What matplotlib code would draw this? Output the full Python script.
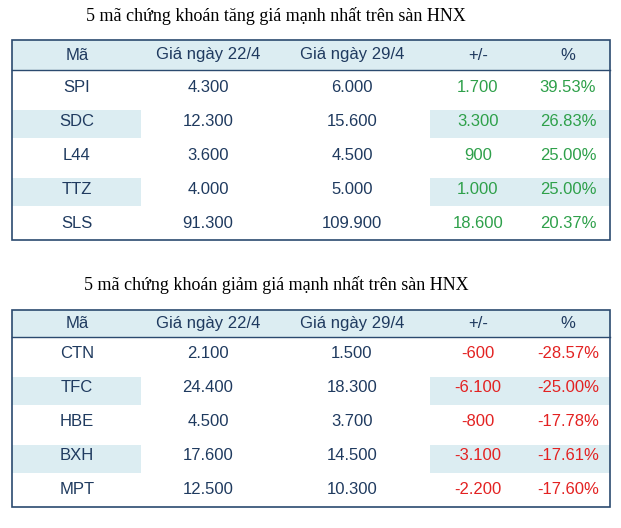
import matplotlib
matplotlib.use("Agg")
import matplotlib.pyplot as plt
from matplotlib.patches import Rectangle

HEADERS = ["Mã", "Giá ngày 22/4", "Giá ngày 29/4", "+/-", "%"]

UP_TITLE = "5 mã chứng khoán tăng giá mạnh nhất trên sàn HNX"
UP_CODES = ["SPI", "SDC", "L44", "TTZ", "SLS"]
UP_PRICE_22 = ["4.300", "12.300", "3.600", "4.000", "91.300"]
UP_PRICE_29 = ["6.000", "15.600", "4.500", "5.000", "109.900"]
UP_CHANGE = ["1.700", "3.300", "900", "1.000", "18.600"]
UP_PCT = ["39.53%", "26.83%", "25.00%", "25.00%", "20.37%"]

DOWN_TITLE = "5 mã chứng khoán giảm giá mạnh nhất trên sàn HNX"
DOWN_CODES = ["CTN", "TFC", "HBE", "BXH", "MPT"]
DOWN_PRICE_22 = ["2.100", "24.400", "4.500", "17.600", "12.500"]
DOWN_PRICE_29 = ["1.500", "18.300", "3.700", "14.500", "10.300"]
DOWN_CHANGE = ["-600", "-6.100", "-800", "-3.100", "-2.200"]
DOWN_PCT = ["-28.57%", "-25.00%", "-17.78%", "-17.61%", "-17.60%"]

SHADE = "#dcedf2"
NAVY = "#1f3a5f"
BORDER = "#2b4a6f"
GREEN = "#2ea04a"
RED = "#e32222"

COL_X = [77, 208, 352, 478, 568]
LEFT, RIGHT = 12, 610


def draw_table(ax, title, title_y, top, header_h, row_h, rows, color):
    ax.text(276, title_y, title, ha="center", va="center", fontsize=13,
            family="Liberation Serif", color="black")
    n = len(rows)
    bottom = top + header_h + n * row_h
    ax.add_patch(Rectangle((LEFT, top), RIGHT - LEFT, header_h, facecolor=SHADE,
                           edgecolor="none"))
    for i, row in enumerate(rows):
        y0 = top + header_h + i * row_h
        if i % 2 == 1:
            ax.add_patch(Rectangle((LEFT, y0 + 6), 129, row_h - 6,
                                   facecolor=SHADE, edgecolor="none"))
            ax.add_patch(Rectangle((430, y0 + 6), RIGHT - 430, row_h - 6,
                                   facecolor=SHADE, edgecolor="none"))
        for j, val in enumerate(row):
            ax.text(COL_X[j], y0 + row_h * 0.5, val, ha="center", va="center",
                    fontsize=12, family="Liberation Sans",
                    color=color if j >= 3 else NAVY)
    for j, h in enumerate(HEADERS):
        ax.text(COL_X[j], top + header_h / 2, h, ha="center", va="center",
                fontsize=12, family="Liberation Sans", color=NAVY)
    ax.add_patch(Rectangle((LEFT, top), RIGHT - LEFT, bottom - top,
                           facecolor="none", edgecolor=BORDER, linewidth=1.2))
    ax.plot([LEFT, RIGHT], [top + header_h, top + header_h], color=BORDER,
            linewidth=1.0)


fig = plt.figure(figsize=(6.21, 5.28), dpi=100)
ax = fig.add_axes([0, 0, 1, 1])
ax.set_xlim(0, 621)
ax.set_ylim(528, 0)
ax.axis("off")

up_rows = list(zip(UP_CODES, UP_PRICE_22, UP_PRICE_29, UP_CHANGE, UP_PCT))
down_rows = list(zip(DOWN_CODES, DOWN_PRICE_22, DOWN_PRICE_29, DOWN_CHANGE, DOWN_PCT))

draw_table(ax, UP_TITLE, 16, 40, 30, 34, up_rows, GREEN)
draw_table(ax, DOWN_TITLE, 285, 310, 27, 34, down_rows, RED)

fig.savefig("out.png", dpi=100)
